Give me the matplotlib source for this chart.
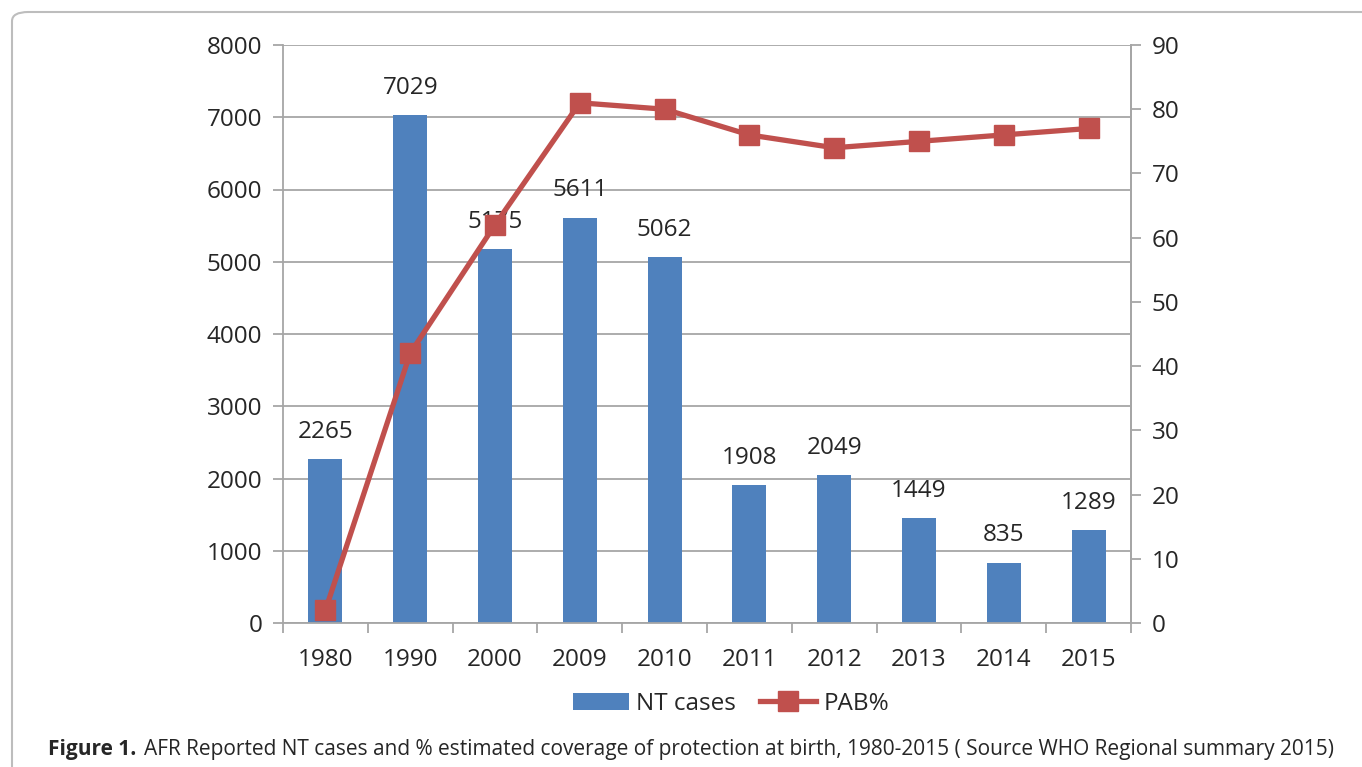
import matplotlib
matplotlib.use("Agg")
import matplotlib.pyplot as plt
from matplotlib.patches import FancyBboxPatch, Patch
from matplotlib.lines import Line2D
import numpy as np

years = ["1980", "1990", "2000", "2009", "2010", "2011", "2012", "2013", "2014", "2015"]
nt_cases = [2265, 7029, 5175, 5611, 5062, 1908, 2049, 1449, 835, 1289]
pab_pct = [2, 42, 62, 81, 80, 76, 74, 75, 76, 77]

BLUE = "#4F81BD"
RED = "#C0504D"
GRID = "#A6A6A6"
TEXT = "#262626"
FS = 17.5

plt.rcParams["font.family"] = ["Open Sans", "DejaVu Sans"]

W, H = 1362, 767
fig = plt.figure(figsize=(W / 100, H / 100), dpi=100)

# rounded border of the figure frame
frame = FancyBboxPatch((12 / W, -40 / H), 1.2, (H - 12 + 40) / H,
                       boxstyle="round,pad=0,rounding_size=0.012",
                       transform=fig.transFigure, facecolor="none",
                       edgecolor="#BDBDBD", linewidth=1.5, clip_on=False)
fig.patches.append(frame)

ax = fig.add_axes([283 / W, 1 - 623 / H, (1131 - 283) / W, (623 - 45) / H])
x = np.arange(len(years))

ax.bar(x, nt_cases, width=0.4, color=BLUE, zorder=2)
for xi, v in zip(x, nt_cases):
    ax.annotate(str(v), (xi, v), xytext=(0, 11), textcoords="offset points",
                ha="center", va="bottom", fontsize=FS, color=TEXT, zorder=3)

ax.set_xlim(-0.5, len(years) - 0.5)
ax.set_ylim(0, 8000)
ax.set_yticks(range(0, 8001, 1000))
ax.grid(axis="y", color=GRID, linewidth=1.3, zorder=0)
ax.set_axisbelow(True)

ax.set_xticks(np.arange(-0.5, len(years)), labels=[])
ax.set_xticks(x, labels=years, minor=True)
ax.tick_params(axis="x", which="major", length=7, width=1.3, color=GRID, direction="out")
ax.tick_params(axis="x", which="minor", length=0, pad=18, labelsize=FS, labelcolor=TEXT)
ax.tick_params(axis="y", length=7, width=1.3, color=GRID, labelsize=FS,
               labelcolor=TEXT, pad=8)

for side in ["left", "right", "bottom"]:
    ax.spines[side].set_color(GRID)
    ax.spines[side].set_linewidth(1.3)
ax.spines["top"].set_visible(False)

ax2 = ax.twinx()
ax2.plot(x, pab_pct, color=RED, linewidth=3.8, marker="s", markersize=14,
         clip_on=False, zorder=5)
ax2.set_ylim(0, 90)
ax2.set_yticks(range(0, 91, 10))
ax2.tick_params(axis="y", length=7, width=1.3, color=GRID, labelsize=FS,
                labelcolor=TEXT, pad=8)
for side in ["left", "bottom", "top"]:
    ax2.spines[side].set_visible(False)
ax2.spines["right"].set_color(GRID)
ax2.spines["right"].set_linewidth(1.3)

handles = [Patch(facecolor=BLUE, label="NT cases"),
           Line2D([], [], color=RED, linewidth=3.8, marker="s", markersize=14,
                  label="PAB%")]
fig.legend(handles=handles, loc="center", bbox_to_anchor=(731 / W, 1 - 704 / H),
           ncol=2, frameon=False, fontsize=FS, handlelength=2.3,
           handletextpad=0.3, columnspacing=1.0, labelcolor=TEXT)

fig.text(48 / W, 1 - 750 / H, "Figure 1.", fontsize=15, fontweight="bold",
         ha="left", va="center", color=TEXT)
fig.text(144 / W, 1 - 750 / H,
         "AFR Reported NT cases and % estimated coverage of protection at birth, "
         "1980-2015 ( Source WHO Regional summary 2015)",
         fontsize=15, ha="left", va="center", color=TEXT)

fig.savefig("out.png", dpi=100)
